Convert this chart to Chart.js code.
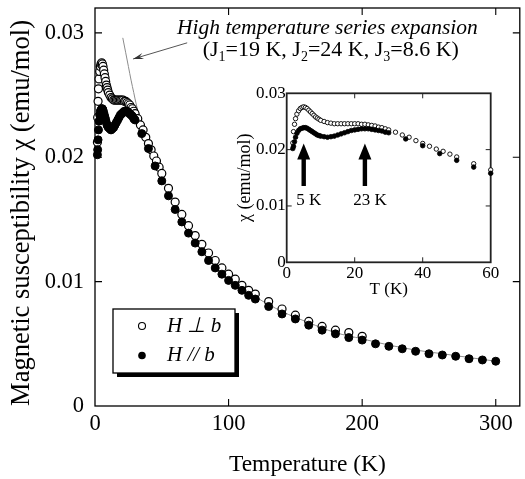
<!DOCTYPE html>
<html>
<head>
<meta charset="utf-8">
<script src="https://cdn.jsdelivr.net/npm/chart.js@4.4.1/dist/chart.umd.min.js"></script>
<style>
  html, body { margin: 0; padding: 0; background: #fff; }
  #wrap { position: relative; width: 525px; height: 479px; overflow: hidden; }
  #main { position: absolute; left: 0; top: 0; }
  #inset { position: absolute; left: 230px; top: 80px; }
</style>
</head>
<body>
<div id="wrap">
  <canvas id="main" width="525" height="479"></canvas>
  <canvas id="inset" width="280" height="230"></canvas>
</div>
<script>
// ---------------- DATA ----------------
// Low-temperature dense measurements (K) shared by both field orientations
const tempLow = [1.8, 2.0, 2.3, 2.6, 3.0, 3.5, 4.0, 4.5, 5.0, 5.5, 6.0, 6.5, 7.0, 7.5, 8.0, 8.5, 9.0, 9.5, 10, 11, 12, 13, 14, 15, 16, 17, 18, 19, 20, 21, 22, 23, 24, 25, 26, 27, 28, 29, 30];
// H perpendicular b (open circles), emu/mol
const chiPerpLow = [0.0212, 0.0232, 0.0245, 0.0255, 0.0263, 0.0269, 0.0273, 0.0275, 0.0276, 0.0275, 0.0273, 0.0270, 0.0267, 0.0264, 0.0261, 0.0258, 0.0256, 0.0254, 0.0252, 0.0250, 0.0248, 0.0247, 0.0246, 0.0246, 0.0246, 0.0246, 0.0246, 0.0246, 0.0246, 0.0246, 0.0245, 0.0245, 0.0244, 0.0243, 0.0242, 0.0240, 0.0239, 0.0237, 0.0235];
// H parallel b (filled circles), emu/mol
const chiParLow = [0.0202, 0.0206, 0.0214, 0.0222, 0.0229, 0.0234, 0.0237, 0.0238, 0.0239, 0.0239, 0.0238, 0.0236, 0.0234, 0.0232, 0.0230, 0.0228, 0.0226, 0.0225, 0.0224, 0.0223, 0.0222, 0.0223, 0.0224, 0.0226, 0.0228, 0.0230, 0.0232, 0.0234, 0.0235, 0.0236, 0.0237, 0.0237, 0.0237, 0.0236, 0.0235, 0.0234, 0.0233, 0.0231, 0.0230];

const tempPerpHigh = [32, 34, 36, 38, 40, 42, 44, 46, 48, 50, 55, 60, 65, 70, 75, 80, 85, 90, 95, 100, 105, 110, 115, 120, 130, 140, 150, 160, 170, 180, 190, 200];
const chiPerpHigh = [0.0231, 0.0226, 0.0222, 0.0216, 0.0211, 0.0206, 0.0201, 0.0197, 0.0192, 0.0187, 0.0175, 0.0164, 0.0154, 0.0145, 0.0137, 0.0130, 0.0123, 0.0117, 0.0111, 0.0106, 0.0102, 0.0097, 0.0093, 0.0090, 0.0084, 0.0078, 0.0073, 0.0068, 0.0064, 0.0061, 0.0059, 0.0056];

const tempParHigh = [35, 40, 45, 50, 55, 60, 65, 70, 75, 80, 85, 90, 95, 100, 105, 110, 115, 120, 130, 140, 150, 160, 170, 180, 190, 200, 210, 220, 230, 240, 250, 260, 270, 280, 290, 300];
const chiParHigh = [0.0219, 0.0207, 0.0193, 0.0181, 0.0169, 0.0158, 0.0148, 0.0139, 0.0131, 0.0124, 0.0117, 0.0111, 0.0106, 0.0101, 0.0097, 0.0093, 0.0089, 0.0086, 0.0080, 0.0074, 0.0070, 0.0065, 0.0061, 0.0058, 0.0055, 0.0053, 0.0050, 0.0048, 0.0046, 0.0044, 0.0042, 0.0041, 0.0040, 0.0038, 0.0037, 0.0036];

// High temperature series expansion curve
const htseT = [20.8, 23, 25, 27, 29, 31, 33, 36, 40, 45, 50, 60, 70, 80, 90, 100, 120, 140, 160, 180, 200, 220, 240, 260, 280, 300];
const htseChi = [0.0296, 0.0284, 0.0273, 0.0262, 0.0252, 0.0242, 0.0234, 0.0224, 0.0211, 0.0197, 0.0185, 0.0162, 0.0143, 0.0128, 0.0115, 0.0105, 0.0088, 0.0076, 0.0067, 0.0059, 0.0054, 0.0049, 0.0045, 0.0042, 0.0039, 0.0036];

// Tick values and labels
const mainXTicks = [0, 100, 200, 300];
const mainXTickLabels = ['0', '100', '200', '300'];
const mainYTicks = [0, 0.01, 0.02, 0.03];
const mainYTickLabels = ['0', '0.01', '0.02', '0.03'];
const insetXTicks = [0, 20, 40, 60];
const insetXTickLabels = ['0', '20', '40', '60'];
const insetYTicks = [0, 0.01, 0.02, 0.03];
const insetYTickLabels = ['0', '0.01', '0.02', '0.03'];

// Titles and annotations
const mainYTitle = 'Magnetic susceptibility \u03C7 (emu/mol)';
const mainXTitle = 'Temperature (K)';
const seriesLabels = ['H \u22A5 b', 'H // b'];
const insetArrowT = [5, 23];
const insetArrowLabels = ['5 K', '23 K'];
const htseTitle = 'High temperature series expansion';
const htseParams = [['(J', ''], ['1', 'sub'], ['=19 K, J', ''], ['2', 'sub'], ['=24 K, J', ''], ['3', 'sub'], ['=8.6 K)', '']];

// ---------------- BUILD ----------------
function pts(ts, cs) { return ts.map((t, i) => ({ x: t, y: cs[i] })); }
const perpAll = pts(tempLow, chiPerpLow).concat(pts(tempPerpHigh, chiPerpHigh));
const parAll = pts(tempLow, chiParLow).concat(pts(tempParHigh, chiParHigh));
const htsePts = pts(htseT, htseChi);
const perpInset = perpAll.filter(p => p.x <= 60);
const parInset = parAll.filter(p => p.x <= 60);

const SERIF = '"Liberation Serif", "Times New Roman", serif';

function frameAndTicks(opts) {
  return {
    id: 'frame_' + opts.id,
    beforeDatasetsDraw(chart) {
      const { ctx, chartArea: a, scales } = chart;
      const xs = scales.x, ys = scales.y;
      ctx.save();
      ctx.strokeStyle = opts.color;
      ctx.lineWidth = opts.lw;
      ctx.strokeRect(a.left, a.top, a.right - a.left, a.bottom - a.top);
      ctx.lineWidth = opts.tlw;
      ctx.beginPath();
      opts.xt.forEach(v => {
        const x = xs.getPixelForValue(v);
        ctx.moveTo(x, a.bottom); ctx.lineTo(x, a.bottom - opts.len);
        ctx.moveTo(x, a.top); ctx.lineTo(x, a.top + opts.len);
      });
      opts.yt.forEach(v => {
        const y = ys.getPixelForValue(v);
        ctx.moveTo(a.left, y); ctx.lineTo(a.left + opts.len, y);
        ctx.moveTo(a.right, y); ctx.lineTo(a.right - opts.len, y);
      });
      ctx.stroke();
      ctx.restore();
    }
  };
}

const mainAnnot = {
  id: 'mainAnnot',
  afterDraw(chart) {
    const { ctx, chartArea: a, scales } = chart;
    const xs = scales.x, ys = scales.y;
    ctx.save();
    // Y axis title, rotated, running from the bottom of the plot upward
    ctx.fillStyle = '#000';
    let fs = 25;
    ctx.font = fs + 'px ' + SERIF;
    const want = a.bottom - 20;
    fs = fs * want / ctx.measureText(mainYTitle).width;
    ctx.font = fs.toFixed(2) + 'px ' + SERIF;
    ctx.translate(22, a.bottom);
    ctx.rotate(-Math.PI / 2);
    ctx.textAlign = 'left';
    ctx.textBaseline = 'middle';
    ctx.fillText(mainYTitle, 0, 0);
    ctx.setTransform(1, 0, 0, 1, 0, 0);

    // HTSE title
    ctx.textBaseline = 'alphabetic';
    ctx.textAlign = 'center';
    ctx.font = 'italic 21.5px ' + SERIF;
    const cx = xs.getPixelForValue(174);
    ctx.fillText(htseTitle, cx, ys.getPixelForValue(0.02987));
    // parameters line with subscripts
    const fMain = '22px ' + SERIF, fSub = '14px ' + SERIF;
    let total = 0;
    htseParams.forEach(([s, k]) => { ctx.font = k ? fSub : fMain; total += ctx.measureText(s).width; });
    let x = xs.getPixelForValue(176.5) - total / 2;
    const base2 = ys.getPixelForValue(0.02818);
    ctx.textAlign = 'left';
    htseParams.forEach(([s, k]) => {
      ctx.font = k ? fSub : fMain;
      ctx.fillText(s, x, k ? base2 + 5 : base2);
      x += ctx.measureText(s).width;
    });
    // arrow pointing to the HTSE curve
    const x1 = xs.getPixelForValue(69), y1 = ys.getPixelForValue(0.0292);
    const x2 = xs.getPixelForValue(28.5), y2 = ys.getPixelForValue(0.0279);
    ctx.strokeStyle = '#555';
    ctx.fillStyle = '#333';
    ctx.lineWidth = 1;
    ctx.beginPath(); ctx.moveTo(x1, y1); ctx.lineTo(x2, y2); ctx.stroke();
    const ang = Math.atan2(y2 - y1, x2 - x1);
    const hl = 11, hw = 0.28;
    ctx.beginPath();
    ctx.moveTo(x2, y2);
    ctx.lineTo(x2 - hl * Math.cos(ang - hw), y2 - hl * Math.sin(ang - hw));
    ctx.lineTo(x2 - hl * 0.6 * Math.cos(ang), y2 - hl * 0.6 * Math.sin(ang));
    ctx.lineTo(x2 - hl * Math.cos(ang + hw), y2 - hl * Math.sin(ang + hw));
    ctx.closePath(); ctx.fill();

    // Legend box with shadow
    const bx = a.left + 18, by = a.bottom - 97, bw = 122, bh = 64;
    ctx.fillStyle = '#000';
    ctx.fillRect(bx + 4, by + 4, bw, bh);
    ctx.fillStyle = '#fff';
    ctx.fillRect(bx, by, bw, bh);
    ctx.strokeStyle = '#000';
    ctx.lineWidth = 1.3;
    ctx.strokeRect(bx, by, bw, bh);
    const rows = [by + 17, by + 46.5];
    ctx.lineWidth = 1.1;
    ctx.beginPath(); ctx.arc(bx + 29, rows[0], 3.5, 0, Math.PI * 2); ctx.fillStyle = '#fff'; ctx.fill(); ctx.stroke();
    ctx.beginPath(); ctx.arc(bx + 29, rows[1], 3.8, 0, Math.PI * 2); ctx.fillStyle = '#000'; ctx.fill();
    ctx.fillStyle = '#000';
    ctx.font = 'italic 21px ' + SERIF;
    ctx.textAlign = 'left';
    ctx.textBaseline = 'middle';
    ctx.fillText(seriesLabels[0], bx + 54, rows[0]);
    ctx.fillText(seriesLabels[1], bx + 54, rows[1]);
    ctx.restore();
  }
};

const insetAnnot = {
  id: 'insetAnnot',
  afterDraw(chart) {
    const { ctx, scales } = chart;
    const xs = scales.x, ys = scales.y;
    ctx.save();
    ctx.fillStyle = '#000';
    insetArrowT.forEach((t, i) => {
      const x = xs.getPixelForValue(t);
      const yTip = ys.getPixelForValue(0.0211);
      const yBot = ys.getPixelForValue(0.01355);
      const headL = 16, headW = 6.5, shaft = 2.2;
      ctx.beginPath();
      ctx.moveTo(x, yTip);
      ctx.lineTo(x + headW, yTip + headL);
      ctx.lineTo(x + shaft, yTip + headL);
      ctx.lineTo(x + shaft, yBot);
      ctx.lineTo(x - shaft, yBot);
      ctx.lineTo(x - shaft, yTip + headL);
      ctx.lineTo(x - headW, yTip + headL);
      ctx.closePath();
      ctx.fill();
      ctx.font = '17px ' + SERIF;
      ctx.textAlign = 'center';
      ctx.textBaseline = 'alphabetic';
      ctx.fillText(insetArrowLabels[i], x + 5, ys.getPixelForValue(0.0102));
    });
    ctx.restore();
  }
};

function tickSetter(vals) { return s => { s.ticks = vals.map(v => ({ value: v })); }; }
function labelFor(vals, labels) { return v => { const i = vals.findIndex(t => Math.abs(t - v) < 1e-9); return i >= 0 ? labels[i] : ''; }; }
function fitY(w) { return s => { s.width = w; s.paddingTop = 0; s.paddingBottom = 0; }; }
function fitX(h) { return s => { s.height = h; s.paddingLeft = 0; s.paddingRight = 0; }; }

new Chart(document.getElementById('main'), {
  type: 'scatter',
  data: {
    datasets: [
      { label: seriesLabels[1], data: parAll, pointRadius: 4, pointBackgroundColor: '#000', pointBorderColor: '#000', pointBorderWidth: 1, order: 1, clip: false },
      { label: seriesLabels[0], data: perpAll, pointRadius: 4, pointBackgroundColor: '#fff', pointBorderColor: '#000', pointBorderWidth: 1.2, order: 2, clip: false },
      { type: 'line', label: 'HTSE', data: htsePts, showLine: true, borderColor: '#8c8c8c', borderWidth: 1, pointRadius: 0, cubicInterpolationMode: 'monotone', order: 3, clip: false }
    ]
  },
  options: {
    responsive: false, animation: false, devicePixelRatio: 1, events: [],
    layout: { padding: { top: 8, right: 3, left: 0, bottom: 0 } },
    plugins: { legend: { display: false }, tooltip: { enabled: false } },
    scales: {
      x: {
        type: 'linear', min: 0, max: 318,
        afterBuildTicks: tickSetter(mainXTicks),
        afterFit: fitX(73),
        grid: { display: false, drawTicks: false }, border: { display: false },
        ticks: { autoSkip: false, maxRotation: 0, padding: 5, color: '#000', font: { family: SERIF, size: 22.5 }, callback: labelFor(mainXTicks, mainXTickLabels) },
        title: { display: true, text: mainXTitle, color: '#000', font: { family: SERIF, size: 23.5 }, padding: { top: 0, bottom: 0 } }
      },
      y: {
        type: 'linear', min: 0, max: 0.032,
        afterBuildTicks: tickSetter(mainYTicks),
        afterFit: fitY(95),
        grid: { display: false, drawTicks: false }, border: { display: false },
        ticks: { autoSkip: false, padding: 11, color: '#000', font: { family: SERIF, size: 22.5 }, callback: labelFor(mainYTicks, mainYTickLabels) },
        title: { display: false, text: mainYTitle }
      }
    }
  },
  plugins: [frameAndTicks({ id: 'm', color: '#000', lw: 1.3, tlw: 1.1, len: 7, xt: [100, 200, 300], yt: [0.01, 0.02, 0.03] }), mainAnnot]
});

new Chart(document.getElementById('inset'), {
  type: 'scatter',
  data: {
    datasets: [
      { label: seriesLabels[1], data: parInset, pointRadius: 2.3, pointBackgroundColor: '#000', pointBorderColor: '#000', pointBorderWidth: 0.8, order: 1, clip: false },
      { label: seriesLabels[0], data: perpInset, pointRadius: 2.2, pointBackgroundColor: '#fff', pointBorderColor: '#000', pointBorderWidth: 0.9, order: 2, clip: false }
    ]
  },
  options: {
    responsive: false, animation: false, devicePixelRatio: 1, events: [],
    layout: { padding: { top: 13.3, right: 19.3, left: 0, bottom: 0 } },
    plugins: { legend: { display: false }, tooltip: { enabled: false } },
    scales: {
      x: {
        type: 'linear', min: 0, max: 60,
        afterBuildTicks: tickSetter(insetXTicks),
        afterFit: fitX(47.7),
        grid: { display: false, drawTicks: false }, border: { display: false },
        ticks: { autoSkip: false, maxRotation: 0, padding: 1, color: '#000', font: { family: SERIF, size: 17 }, callback: labelFor(insetXTicks, insetXTickLabels) },
        title: { display: true, text: 'T (K)', color: '#000', font: { family: SERIF, size: 17 }, padding: { top: 0, bottom: 10 } }
      },
      y: {
        type: 'linear', min: 0, max: 0.03,
        afterBuildTicks: tickSetter(insetYTicks),
        afterFit: fitY(56.7),
        grid: { display: false, drawTicks: false }, border: { display: false },
        ticks: { autoSkip: false, padding: 1, color: '#000', font: { family: SERIF, size: 17 }, callback: labelFor(insetYTicks, insetYTickLabels) },
        title: { display: true, text: '\u03C7 (emu/mol)', color: '#000', font: { family: SERIF, size: 18 }, padding: { top: 4, bottom: 0 } }
      }
    }
  },
  plugins: [frameAndTicks({ id: 'i', color: '#222', lw: 1.8, tlw: 1, len: 5, xt: [20, 40], yt: [0.01, 0.02] }), insetAnnot]
});
</script>
</body>
</html>
